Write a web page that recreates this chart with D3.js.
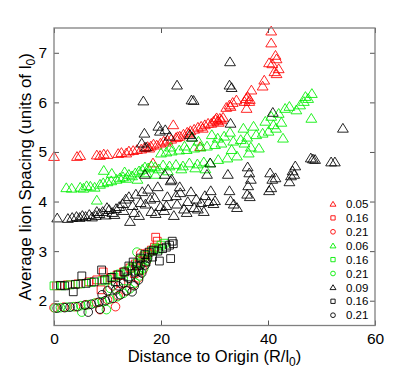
<!DOCTYPE html>
<html>
<head>
<meta charset="utf-8">
<script src="https://cdn.jsdelivr.net/npm/d3@7"></script>
<style>
  html, body { margin: 0; padding: 0; background: #fff; }
  svg { display: block; font-family: "Liberation Sans", Arial, sans-serif; }
  .ax path { display: none; }
  .ax line { stroke: #555; }
  .ax text { font-size: 15.5px; fill: #000; font-family: "Liberation Sans", Arial, sans-serif; }
</style>
</head>
<body>
<svg id="chart" width="415" height="372"></svg>
<script>
// ---- data: [distance R/l0, spacing] ----
var redTri = [[0,4.91],[4.3,4.91],[4.9,4.93],[8.0,4.94],[8.6,4.93],[9.3,4.96],[10.0,4.95],[12.0,4.97],[12.6,4.99],[13.5,4.98],[14.0,5.02],[14.8,5.03],[15.5,5.05],[16.3,5.06],[16.9,5.09],[17.5,5.11],[18.1,5.12],[18.6,5.16],[18.5,4.78],[19.9,5.18],[20.5,5.22],[21.2,5.24],[21.9,5.26],[22.3,5.55],[22.8,5.29],[23.5,5.32],[24.2,5.36],[24.9,5.40],[25.5,5.43],[26.2,5.46],[26.9,5.50],[27.5,5.52],[27.3,5.11],[28.2,5.55],[28.8,5.58],[29.8,5.62],[30.2,5.66],[30.6,5.63],[31.0,5.68],[31.3,5.65],[31.6,5.70],[30.8,5.60],[32.2,5.90],[32.8,5.95],[33.4,6.00],[34.1,6.05],[35.9,6.08],[36.2,6.12],[36.6,6.06],[36.9,6.25],[36.0,5.88],[36.5,6.02],[39.0,6.33],[39.3,6.45],[40.2,6.80],[40.6,7.20],[40.6,7.44],[41.4,6.95],[41.6,6.88],[41.2,6.62],[41.6,6.58],[42.0,6.68],[40.8,6.78],[17.8,5.08],[19.2,5.14],[20.9,5.20],[23.1,5.31],[25.2,5.38],[27.8,5.48],[29.4,5.58],[30.4,5.69],[33.0,5.92],[35.6,6.02]];
var redSq = [[0.5,2.30],[2.5,2.32],[4.5,2.34],[6.5,2.38],[8.0,2.42],[9.2,2.58],[8.8,2.22],[10.5,2.46],[11.8,2.52],[13.0,2.58],[14.2,2.66],[15.2,2.74],[16.0,2.82],[16.8,2.90],[17.5,2.96],[18.2,3.02],[19.0,3.28],[19.3,3.20],[18.8,3.08],[12.5,2.35],[15.0,2.55]];
var redCirc = [[0,1.86],[1.8,1.87],[4.0,1.88],[6.0,1.92],[8.6,1.82],[8.0,1.96],[10.0,2.02],[11.5,1.88],[12.0,2.10],[13.5,2.20],[14.8,2.32],[15.8,2.46],[16.6,2.62],[17.2,2.78],[16.2,2.95],[11.0,2.30]];
var greenTri = [[2.3,4.28],[3.3,4.27],[4.9,4.29],[5.5,4.27],[6.1,4.32],[6.8,4.31],[7.6,4.29],[8.0,4.03],[8.6,4.35],[9.2,4.38],[9.3,4.63],[10.0,4.40],[10.7,4.42],[10.8,4.57],[11.7,4.45],[12.3,4.48],[12.9,4.50],[13.5,4.47],[14.0,4.55],[14.6,4.52],[15.2,4.58],[15.9,4.62],[16.5,4.65],[17.0,4.70],[17.6,4.68],[18.2,4.72],[18.9,4.70],[19.6,4.66],[20.0,4.98],[20.4,4.74],[21.0,5.00],[21.6,4.72],[22.0,5.02],[22.8,4.75],[23.4,5.04],[24.1,4.72],[24.8,5.05],[25.3,4.78],[25.8,5.30],[26.2,5.08],[26.8,4.76],[27.4,5.10],[28.0,4.80],[28.6,5.12],[29.2,4.78],[29.5,5.35],[30.1,5.15],[30.7,4.85],[31.3,5.18],[31.8,5.32],[32.4,4.88],[32.9,5.40],[33.5,5.22],[34.2,4.92],[34.9,5.25],[35.4,5.48],[36.1,5.30],[36.8,5.10],[37.3,5.52],[37.8,5.35],[38.3,5.08],[39.0,5.38],[39.5,5.62],[40.1,5.42],[40.6,5.72],[41.0,5.55],[41.5,5.48],[42.0,5.78],[42.5,5.60],[42.8,5.28],[43.2,5.88],[44.0,5.92],[45.3,5.85],[46.0,5.95],[46.7,6.02],[47.5,6.08],[48.2,6.18],[48.1,5.68],[47.0,6.12],[13.2,4.60],[15.6,4.45],[17.3,4.58],[19.0,4.55],[21.3,4.62],[23.8,4.66],[26.4,4.68],[28.3,4.66],[21.8,5.10],[24.4,5.12],[27.0,5.22],[30.6,5.28],[33.2,5.05],[35.6,5.18],[36.4,4.98]];
var greenSq = [[0,2.30],[1.5,2.30],[3.0,2.32],[5.0,2.34],[7.0,2.37],[9.0,2.40],[10.0,2.43],[11.2,2.48],[12.4,2.54],[13.6,2.60],[14.6,2.68],[15.6,2.76],[16.6,2.84],[17.4,2.92],[18.3,3.00],[19.1,3.06],[20.0,3.12],[20.6,3.16],[19.6,3.04],[13.0,2.40],[16.0,2.62]];
var greenCirc = [[0.2,1.85],[1.2,1.86],[2.4,1.87],[3.6,1.88],[5.0,1.90],[5.2,1.77],[6.4,1.92],[7.6,1.95],[9.0,1.98],[9.8,1.82],[10.4,2.03],[11.8,2.08],[13.0,2.15],[14.2,2.24],[15.2,2.36],[16.0,2.50],[16.8,2.66],[17.4,2.82],[15.5,2.98],[10.5,2.25],[14.5,2.65]];
var blackTri = [[0.6,3.67],[2.6,3.66],[3.4,3.68],[4.2,3.70],[4.8,3.68],[5.9,3.70],[6.6,3.74],[7.1,3.69],[7.8,3.72],[8.5,3.76],[9.1,3.80],[9.7,3.73],[10.3,3.84],[10.9,3.78],[11.6,3.86],[12.2,3.90],[12.8,3.96],[13.4,4.05],[14.2,3.60],[14.0,4.10],[14.7,3.92],[15.3,4.15],[15.9,3.72],[16.5,4.20],[17.0,4.55],[17.1,3.95],[17.6,4.25],[18.2,3.80],[18.8,4.08],[19.4,4.30],[19.9,3.90],[20.6,3.82],[20.7,4.55],[21.2,4.10],[21.8,4.42],[22.0,4.45],[22.4,3.72],[23.0,3.95],[23.5,4.30],[23.6,4.18],[24.3,3.85],[25.0,4.00],[25.6,4.20],[26.2,3.88],[26.9,3.85],[27.5,3.98],[28.2,4.12],[28.6,4.55],[28.9,4.00],[29.3,4.22],[29.8,3.96],[29.2,4.78],[30.1,4.02],[32.5,4.55],[32.8,4.22],[33.0,4.02],[33.6,3.95],[34.2,3.88],[36.2,4.70],[36.5,4.58],[36.8,4.45],[36.3,4.32],[36.1,4.15],[36.6,4.10],[40.4,4.58],[40.8,4.45],[41.4,4.48],[40.6,4.28],[40.2,4.22],[44.3,4.52],[44.6,4.62],[45.1,4.72],[44.0,4.40],[44.9,4.55],[48.0,4.88],[48.4,4.86],[48.8,4.85],[51.8,4.80],[52.5,4.80],[16.7,6.03],[23.0,6.35],[25.7,6.05],[26.1,6.04],[32.9,6.82],[32.8,6.35],[33.2,6.30],[40.9,5.80],[54.0,5.48],[16.9,5.38],[16.4,5.18],[17.2,5.10],[19.5,5.52],[19.8,5.42],[20.8,5.45],[25.4,5.35],[25.8,5.30],[33.0,5.58],[21.6,5.32],[5.3,3.72],[8.0,3.80],[9.9,3.88],[11.3,3.74],[13.0,3.82],[15.0,3.78],[16.2,3.98],[18.0,4.05],[19.0,3.76],[21.0,3.92],[22.8,4.12],[24.8,3.78],[26.6,4.05],[28.0,3.80]];
var blackSq = [[1.2,2.31],[2.0,2.30],[3.6,2.18],[4.0,2.33],[5.2,2.50],[6.0,2.35],[7.5,2.38],[8.9,2.62],[9.5,2.42],[10.8,2.47],[12.0,2.52],[13.2,2.58],[14.0,2.70],[14.8,2.78],[15.5,2.70],[16.2,2.86],[17.0,2.93],[17.8,2.98],[18.6,3.02],[19.4,3.00],[19.7,2.80],[20.3,3.05],[21.0,3.08],[21.8,2.85],[21.6,3.12],[22.1,3.20],[22.3,3.15],[11.5,2.38],[13.8,2.48],[15.8,2.60],[17.2,2.78],[18.4,2.88]];
var blackCirc = [[0.6,1.85],[2.0,1.86],[3.0,1.87],[4.4,1.88],[6.4,1.77],[5.8,1.91],[7.0,1.93],[8.6,1.83],[8.4,1.97],[9.6,2.00],[10.0,2.20],[11.0,2.05],[12.0,2.30],[12.4,2.12],[13.6,2.20],[14.0,2.45],[14.6,2.18],[15.0,2.30],[15.8,2.42],[16.4,2.56],[17.0,2.72],[17.5,2.86],[9.0,2.12],[11.6,2.22],[13.0,2.36],[15.2,2.58],[16.2,2.72]];

var seriesNames = ["0.05", "0.16", "0.21", "0.06", "0.16", "0.21", "0.09", "0.16", "0.21"];
var xTicks = [0, 20, 40, 60];
var yTicks = [2, 3, 4, 5, 6, 7];

var RED = "#ff0000", GREEN = "#00ee00", BLACK = "#000000";
var series = [
  { pts: redTri, shape: "tri", color: RED },
  { pts: redSq, shape: "sq", color: RED },
  { pts: redCirc, shape: "circ", color: RED },
  { pts: greenTri, shape: "tri", color: GREEN },
  { pts: greenSq, shape: "sq", color: GREEN },
  { pts: greenCirc, shape: "circ", color: GREEN },
  { pts: blackTri, shape: "tri", color: BLACK },
  { pts: blackSq, shape: "sq", color: BLACK },
  { pts: blackCirc, shape: "circ", color: BLACK }
];
series.forEach(function (s, i) { s.label = seriesNames[i]; });

var svg = d3.select("#chart");
var L = 54, R = 375, T = 28, B = 325.5;
var x = d3.scaleLinear().domain([0, 60]).range([L, R]);
var y = d3.scaleLinear().domain([1.5, 7.5]).range([B, T]);

// marker path centred at 0,0; k scales it (legend uses small ones)
function marker(shape, k) {
  if (shape === "tri") return "M0," + (-4.8 * k) + "L" + (5.4 * k) + "," + (4 * k) + "L" + (-5.4 * k) + "," + (4 * k) + "Z";
  if (shape === "sq") { var h = 3.9 * k; return "M" + -h + "," + -h + "H" + h + "V" + h + "H" + -h + "Z"; }
  var r = 4.3 * k;
  return "M" + r + ",0A" + r + "," + r + " 0 1,1 " + -r + ",0A" + r + "," + r + " 0 1,1 " + r + ",0Z";
}

// ---- points ----
var pg = svg.append("g");
series.forEach(function (s) {
  pg.append("g").selectAll("path").data(s.pts).enter().append("path")
    .attr("transform", function (d) { return "translate(" + x(d[0]) + "," + y(d[1]) + ")"; })
    .attr("d", marker(s.shape, 1))
    .attr("fill", "none")
    .attr("stroke", s.color)
    .attr("stroke-width", 1)
    .attr("stroke-opacity", 0.85);
});

// ---- axes: ticks inward on all four sides ----
svg.append("g").attr("class", "ax").attr("transform", "translate(0," + B + ")")
  .call(d3.axisBottom(x).tickValues(xTicks).tickSizeInner(-5).tickSizeOuter(0).tickPadding(7));
svg.append("g").attr("class", "ax").attr("transform", "translate(0," + T + ")")
  .call(d3.axisTop(x).tickValues(xTicks).tickSizeInner(-5).tickSizeOuter(0).tickFormat(""));
svg.append("g").attr("class", "ax").attr("transform", "translate(" + L + ",0)")
  .call(d3.axisLeft(y).tickValues(yTicks).tickFormat(d3.format("d")).tickSizeInner(-5).tickSizeOuter(0).tickPadding(7));
svg.append("g").attr("class", "ax").attr("transform", "translate(" + R + ",0)")
  .call(d3.axisRight(y).tickValues(yTicks).tickSizeInner(-5).tickSizeOuter(0).tickFormat(""));

svg.append("rect")
  .attr("x", L).attr("y", T).attr("width", R - L).attr("height", B - T)
  .attr("fill", "none").attr("stroke", "#808080").attr("stroke-width", 1.3);

// ---- axis labels ----
var xl = svg.append("text")
  .attr("x", (L + R) / 2).attr("y", 362).attr("text-anchor", "middle")
  .attr("font-size", 16.5);
xl.append("tspan").text("Distance to Origin (R/l");
xl.append("tspan").attr("font-size", 12).attr("dy", 4).text("0");
xl.append("tspan").attr("dy", -4).text(")");

var yl = svg.append("text")
  .attr("transform", "translate(31," + (T + B) / 2 + ") rotate(-90)")
  .attr("text-anchor", "middle").attr("font-size", 17);
yl.append("tspan").text("Average Iion Spacing (units of l");
yl.append("tspan").attr("font-size", 12).attr("dy", 4).text("0");
yl.append("tspan").attr("dy", -4).text(")");

// ---- legend ----
var lg = svg.append("g");
series.forEach(function (s, i) {
  var ly = 204 + i * 13.9;
  lg.append("path")
    .attr("transform", "translate(333," + ly + ")")
    .attr("d", marker(s.shape, 0.55))
    .attr("fill", "none").attr("stroke", s.color).attr("stroke-width", 0.9);
  lg.append("text")
    .attr("x", 346).attr("y", ly).attr("dy", "0.36em")
    .attr("font-size", 11.5).text(s.label);
});
</script>
</body>
</html>
